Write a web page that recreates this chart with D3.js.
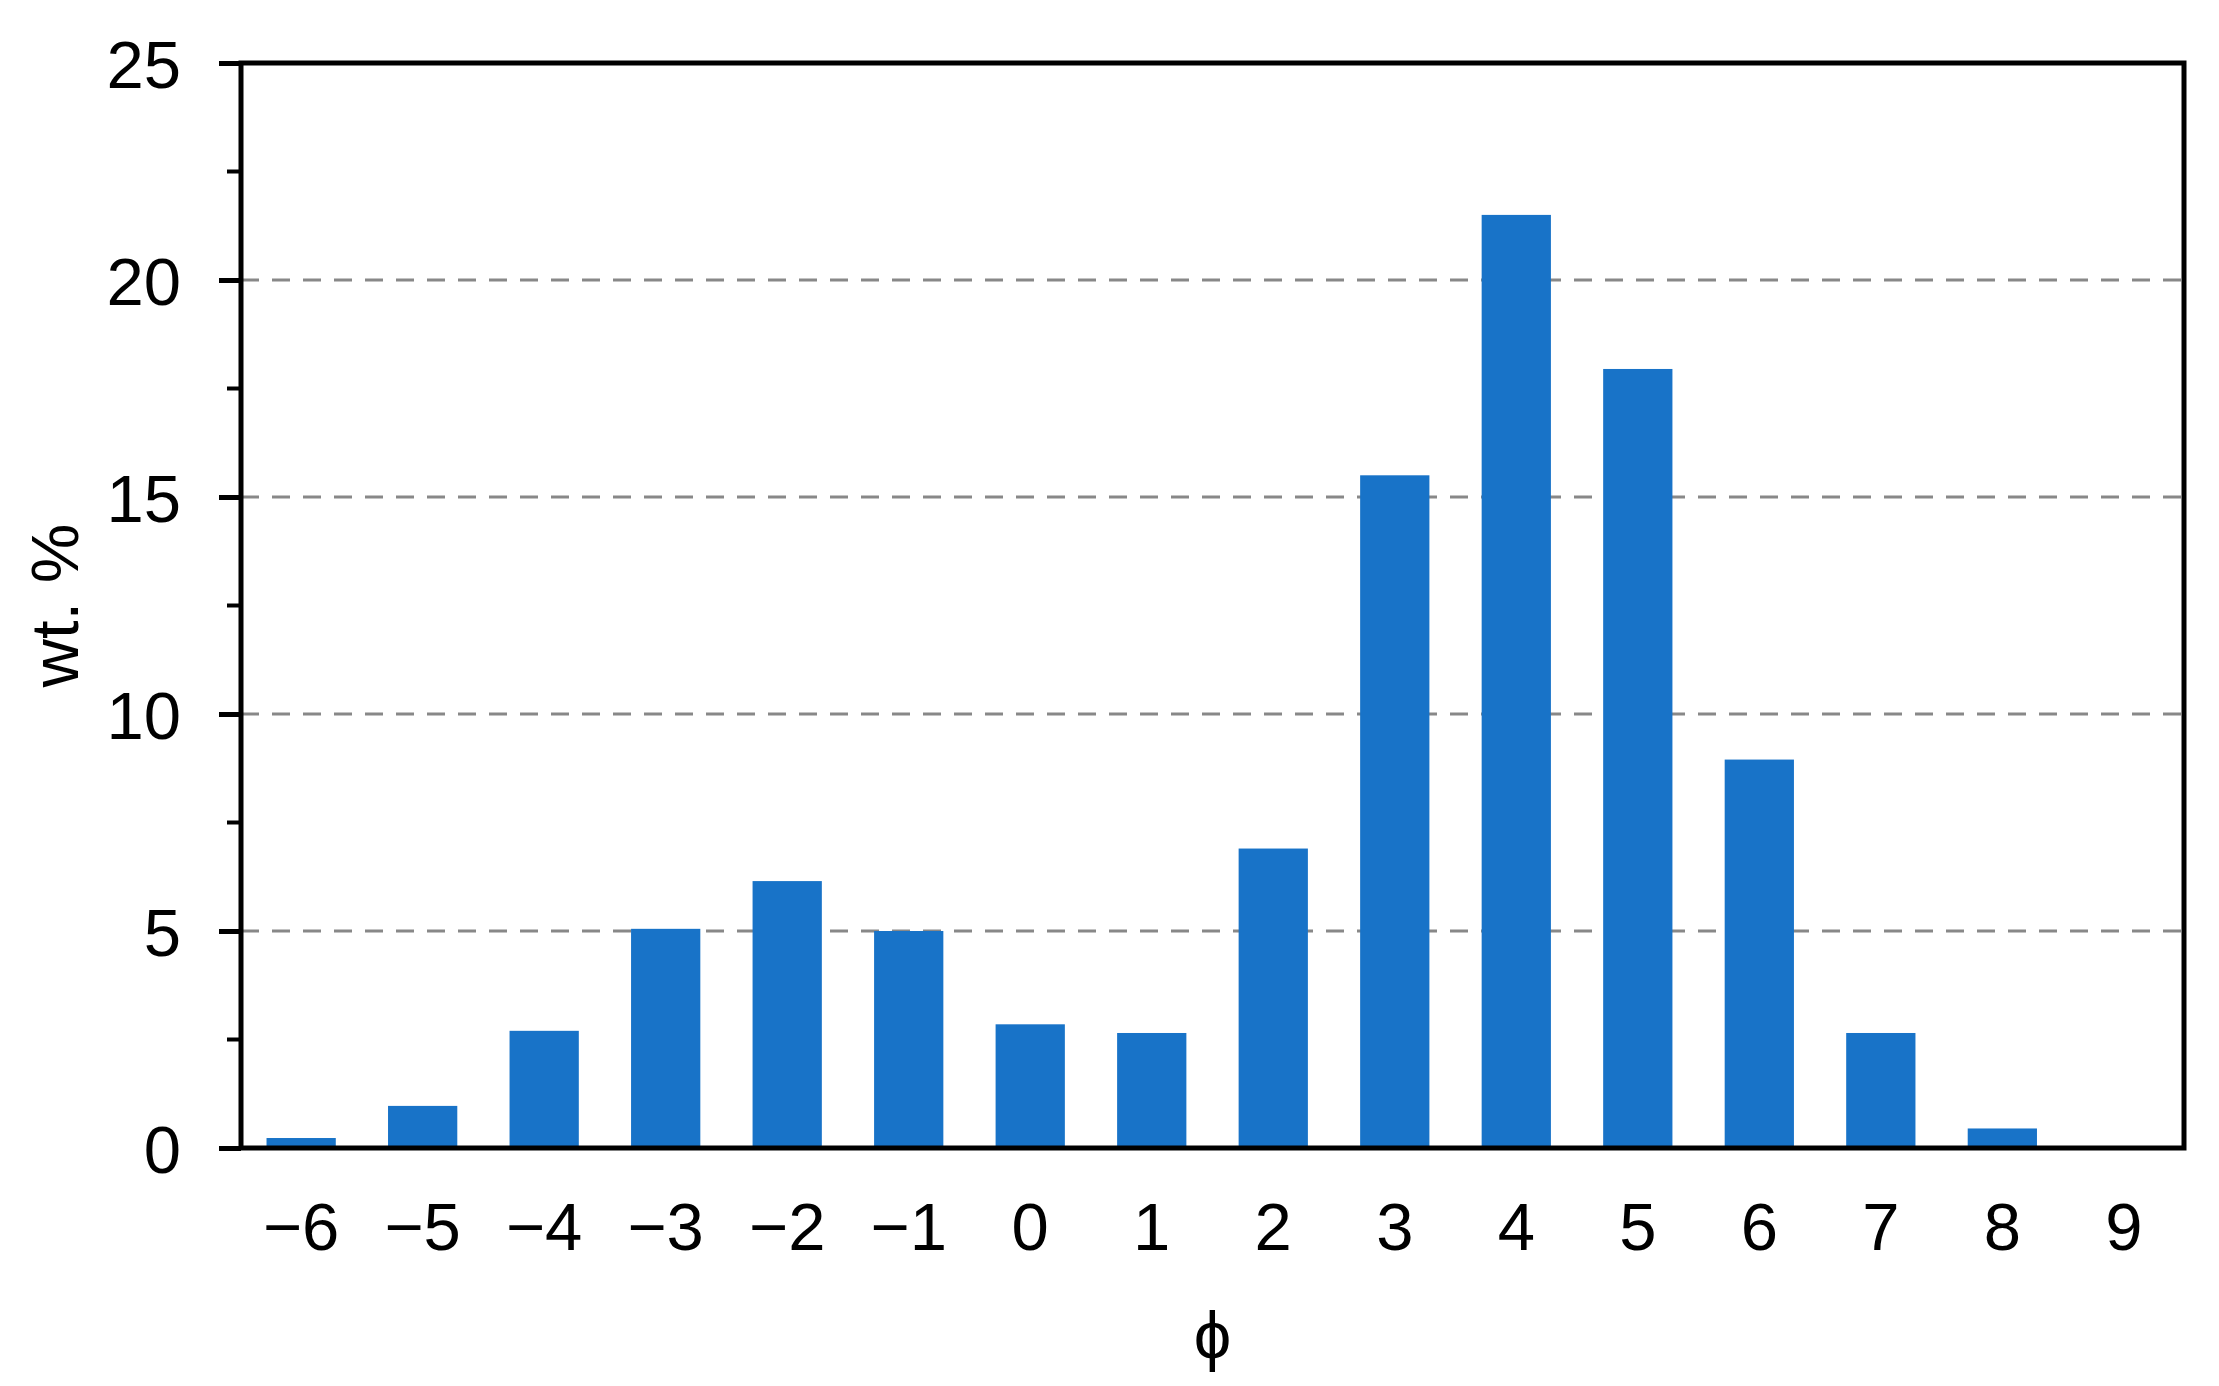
<!DOCTYPE html>
<html>
<head>
<meta charset="utf-8">
<script src="https://cdn.jsdelivr.net/npm/d3@7"></script>
<style>
  body { margin: 0; background: #fff; }
  text { font-family: "Liberation Sans", Arial, sans-serif; fill: #000; }
</style>
</head>
<body>
<div id="chart"></div>
<script>
const phi = ["−6","−5","−4","−3","−2","−1","0","1","2","3","4","5","6","7","8","9"]
const wt = [0.23, 0.97, 2.7, 5.05, 6.15, 5.0, 2.85, 2.65, 6.9, 15.5, 21.5, 17.95, 8.95, 2.65, 0.45, 0]
const majorTicks = [0, 5, 10, 15, 20, 25]
const minorTicks = [2.5, 7.5, 12.5, 17.5, 22.5]

var width = 2219,
    height = 1386
var pLeft = 241, pRight = 2184, pTop = 63, pBottom = 1148

var svg = d3.select("#chart").append("svg")
    .attr("width", width)
    .attr("height", height)

var x = d3.scaleBand().domain(phi).range([pLeft, pRight]).paddingInner(0.43).paddingOuter(0.21)
var y = d3.scaleLinear().domain([0, 25]).range([pBottom, pTop])

// dashed gridlines
svg.append("g").selectAll("line")
    .data(majorTicks.filter(d => d > 0 && d < 25))
    .enter().append("line")
    .attr("x1", pLeft).attr("x2", pRight)
    .attr("y1", d => y(d)).attr("y2", d => y(d))
    .style("stroke", "#888").style("stroke-width", 3)
    .style("stroke-dasharray", "18,13")

svg.append("g").selectAll("rect")
    .data(wt)
    .enter().append("rect")
    .attr("x", (d, i) => x(phi[i]))
    .attr("width", x.bandwidth())
    .attr("y", d => y(d))
    .attr("height", d => y(0) - y(d))
    .attr("fill", "#1873c8")

// frame
svg.append("rect")
    .attr("x", pLeft).attr("y", pTop)
    .attr("width", pRight - pLeft).attr("height", pBottom - pTop)
    .attr("fill", "none").style("stroke", "#000").style("stroke-width", 5)

// y axis ticks + labels
var yAxis = svg.append("g").attr("transform", "translate(" + pLeft + ",0)")
    .call(d3.axisLeft(y).tickValues(majorTicks).tickSize(22).tickPadding(38).tickFormat(d3.format("d")))
yAxis.select(".domain").remove()
yAxis.selectAll("line").style("stroke", "#000").style("stroke-width", 5)
yAxis.selectAll("text").style("font-size", "67px").attr("dy", "0.36em")

svg.append("g").selectAll("line")
    .data(minorTicks)
    .enter().append("line")
    .attr("x1", pLeft - 14).attr("x2", pLeft)
    .attr("y1", d => y(d)).attr("y2", d => y(d))
    .style("stroke", "#000").style("stroke-width", 4)

// x labels
svg.append("g").selectAll("text")
    .data(phi)
    .enter().append("text")
    .attr("x", d => x(d) + x.bandwidth() / 2)
    .attr("y", 1250)
    .attr("text-anchor", "middle")
    .style("font-size", "67px")
    .text(d => d)

svg.append("text")
    .attr("x", (pLeft + pRight) / 2)
    .attr("y", 1358)
    .attr("text-anchor", "middle")
    .style("font-size", "67px")
    .text("ϕ")

svg.append("text")
    .attr("transform", "translate(78," + ((pTop + pBottom) / 2) + ") rotate(-90)")
    .attr("text-anchor", "middle")
    .style("font-size", "67px")
    .text("wt. %")
</script>
</body>
</html>
